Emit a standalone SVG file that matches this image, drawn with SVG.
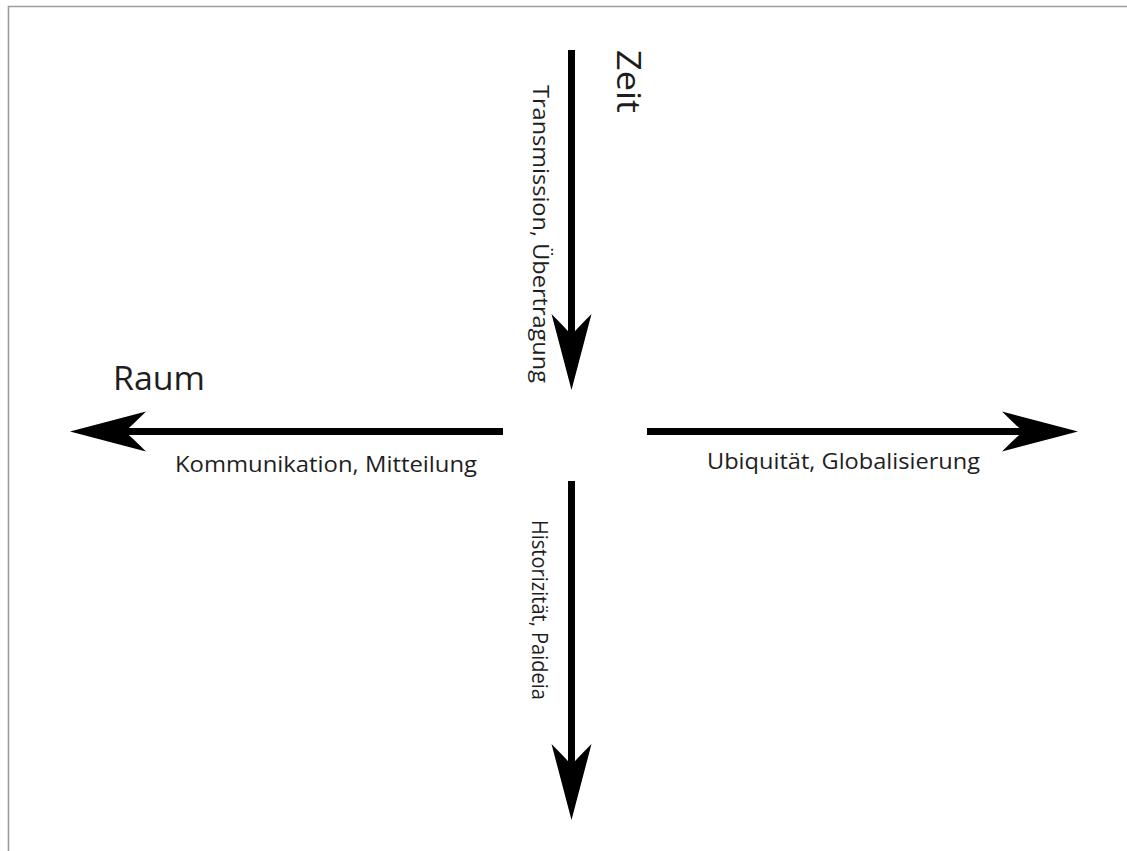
<svg xmlns="http://www.w3.org/2000/svg" width="1127" height="851" viewBox="0 0 1127 851">
  <style>
    .lbl { font-family: "Open Sans", "Liberation Sans", sans-serif; fill: #1e1e1e; }
    .big { font-size: 33px; }
    .small { font-size: 22.5px; }
    .shaft { stroke: #000; stroke-width: 7; fill: none; }
    .head { fill: #000; }
  </style>
  <defs>
    <path id="head" d="M0,0 L-76,-20 Q-64,-8 -55,0 Q-64,8 -76,20 Z"/>
  </defs>
  <rect x="0" y="0" width="1127" height="851" fill="#fff"/>
  <path d="M8.5,851 L8.5,6.5 L1127,6.5" fill="none" stroke="#9c9c9c" stroke-width="1.6"/>

  <g id="connectors">
    <line class="shaft" x1="571.5" y1="50" x2="571.5" y2="345"/>
    <use href="#head" class="head" transform="translate(571.5,390) rotate(90)"/>
    <line class="shaft" x1="571.5" y1="481" x2="571.5" y2="775"/>
    <use href="#head" class="head" transform="translate(571.5,820) rotate(90)"/>
    <line class="shaft" x1="503" y1="431.5" x2="120" y2="431.5"/>
    <use href="#head" class="head" transform="translate(70,431.5) rotate(180)"/>
    <line class="shaft" x1="647" y1="431.5" x2="1030" y2="431.5"/>
    <use href="#head" class="head" transform="translate(1078,431.5)"/>
  </g>

  <g id="zeit">
    <text class="lbl big" transform="translate(617,50) rotate(90)" textLength="63" lengthAdjust="spacingAndGlyphs">Zeit</text>
  </g>
  <g id="raum">
    <text class="lbl big" x="113" y="390" textLength="92" lengthAdjust="spacingAndGlyphs">Raum</text>
  </g>
  <g id="transmission">
    <text class="lbl small" transform="translate(533,85) rotate(90)" textLength="298" lengthAdjust="spacingAndGlyphs">Transmission, Übertragung</text>
  </g>
  <g id="kommunikation">
    <text class="lbl small" x="175" y="472" textLength="302" lengthAdjust="spacingAndGlyphs">Kommunikation, Mitteilung</text>
  </g>
  <g id="ubiquitaet">
    <text class="lbl small" x="707" y="469" textLength="273" lengthAdjust="spacingAndGlyphs">Ubiquität, Globalisierung</text>
  </g>
  <g id="historizitaet">
    <text class="lbl small" transform="translate(532,520) rotate(90)" textLength="180" lengthAdjust="spacingAndGlyphs">Historizität, Paideia</text>
  </g>
</svg>
